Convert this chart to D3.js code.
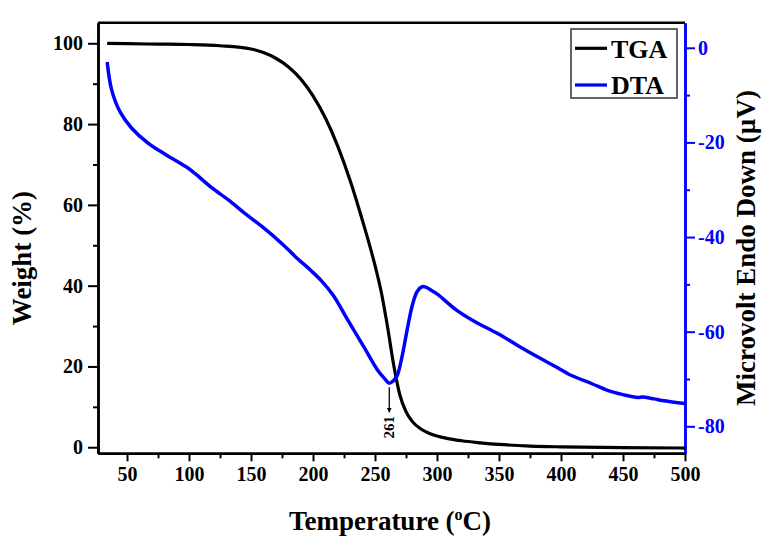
<!DOCTYPE html>
<html>
<head>
<meta charset="utf-8">
<script src="https://cdn.jsdelivr.net/npm/d3@7"></script>
<style>
  html, body { margin: 0; padding: 0; background: #fff; }
  svg { display: block; }
  text { font-family: "Liberation Serif", "Times New Roman", serif; font-weight: bold; }
</style>
</head>
<body>
<svg id="chart" width="777" height="541"></svg>
<script>
// ---------- data ----------
const tgaTemp = [34, 50, 75, 100, 125, 150, 160, 170, 180, 190, 200, 210, 220, 230, 240, 250, 255, 260, 265, 270, 275, 280, 287, 295, 308, 320, 335, 350, 375, 400, 450, 500];
const tgaWeight = [100, 99.9, 99.8, 99.7, 99.4, 98.6, 97.7, 96.3, 94.2, 91.2, 87, 81.5, 74.5, 66, 56, 45, 38.5, 30, 20.5, 13, 8.8, 6.4, 4.5, 3.3, 2.2, 1.6, 1.1, 0.7, 0.3, 0.1, -0.1, -0.2];

const dtaTemp = [34, 37.6, 44.3, 53.8, 67.2, 82, 98, 105, 118, 132, 145, 159, 175, 186, 198, 207, 216, 228, 241, 252, 258, 261.5, 265, 268, 272, 276, 280, 284, 288, 291, 295, 300, 316, 330, 349, 365, 381, 395, 408, 425, 437.5, 450, 461.8, 465.8, 475, 483.3, 500];
const dtaValue = [-3, -8.9, -13.5, -17, -20.2, -22.7, -25.2, -26.6, -29.5, -32.2, -35, -37.8, -41.4, -44.2, -47, -49.3, -52.2, -57.5, -63.2, -68.1, -70, -70.9, -70.3, -69.2, -65, -59.5, -54.5, -51.5, -50.5, -50.6, -51.2, -52, -55.5, -57.8, -60.4, -62.9, -65.3, -67.3, -69.2, -71, -72.4, -73.3, -73.9, -73.8, -74.2, -74.6, -75.2];

const xTicks = [50, 100, 150, 200, 250, 300, 350, 400, 450, 500];
const xMinorTicks = [75, 125, 175, 225, 275, 325, 375, 425, 475];
const yLeftTicks = [0, 20, 40, 60, 80, 100];
const yLeftMinor = [10, 30, 50, 70, 90];
const yRightTicks = [0, -20, -40, -60, -80];
const yRightMinor = [-10, -30, -50, -70];

const seriesNames = ["TGA", "DTA"];
const peakTemp = 261.5;
const peakLabel = "261";

// ---------- layout ----------
const L = 98, R = 685, T = 22.7, B = 453.3;
const black = "#000", blue = "#0000ff";

const svg = d3.select("#chart");
const x = d3.scaleLinear().domain([26.6, 500]).range([L, R]);
const yL = d3.scaleLinear().domain([-1.5, 105.1]).range([B, T]);
const yR = d3.scaleLinear().domain([-85.7, 5.3]).range([B, T]);

svg.append("defs").append("clipPath").attr("id", "clip")
  .append("rect").attr("x", L).attr("y", T).attr("width", R - L).attr("height", B - T);

// top frame
svg.append("line").attr("x1", L).attr("x2", R).attr("y1", T).attr("y2", T)
  .attr("stroke", black).attr("stroke-width", 2.5);

const fmt = d => String(d);
function styleAxis(g, color, fs) {
  g.select(".domain").attr("stroke", color).attr("stroke-width", 2.5);
  g.selectAll(".tick line").attr("stroke", color).attr("stroke-width", 2);
  g.selectAll(".tick text").attr("fill", color).attr("font-size", fs)
    .attr("font-family", "Liberation Serif, serif").attr("font-weight", "bold");
}

// bottom axis
const gx = svg.append("g").attr("transform", `translate(0,${B})`)
  .call(d3.axisBottom(x).tickValues(xTicks).tickFormat(fmt).tickSize(8).tickPadding(6).tickSizeOuter(0));
styleAxis(gx, black, 20);
const gxm = svg.append("g").attr("transform", `translate(0,${B})`)
  .call(d3.axisBottom(x).tickValues(xMinorTicks).tickSize(5).tickFormat("").tickSizeOuter(0));
styleAxis(gxm, black, 20);

// left axis
const gl = svg.append("g").attr("transform", `translate(${L},0)`)
  .call(d3.axisLeft(yL).tickValues(yLeftTicks).tickFormat(fmt).tickSize(10).tickPadding(5).tickSizeOuter(0));
styleAxis(gl, black, 20);
const glm = svg.append("g").attr("transform", `translate(${L},0)`)
  .call(d3.axisLeft(yL).tickValues(yLeftMinor).tickSize(5).tickFormat("").tickSizeOuter(0));
styleAxis(glm, black, 20);

// right axis
const gr = svg.append("g").attr("transform", `translate(${R},0)`)
  .call(d3.axisRight(yR).tickValues(yRightTicks).tickFormat(fmt).tickSize(10).tickPadding(3).tickSizeOuter(0));
styleAxis(gr, blue, 20);
const grm = svg.append("g").attr("transform", `translate(${R},0)`)
  .call(d3.axisRight(yR).tickValues(yRightMinor).tickSize(5).tickFormat("").tickSizeOuter(0));
styleAxis(grm, blue, 20);

// lines
const tgaData = tgaTemp.map((t, i) => [t, tgaWeight[i]]);
const dtaData = dtaTemp.map((t, i) => [t, dtaValue[i]]);

const plot = svg.append("g").attr("clip-path", "url(#clip)");
plot.append("path").datum(tgaData)
  .attr("d", d3.line().x(d => x(d[0])).y(d => yL(d[1])).curve(d3.curveMonotoneX))
  .attr("fill", "none").attr("stroke", black).attr("stroke-width", 3.2);
plot.append("path").datum(dtaData)
  .attr("d", d3.line().x(d => x(d[0])).y(d => yR(d[1])).curve(d3.curveCatmullRom.alpha(0.5)))
  .attr("fill", "none").attr("stroke", blue).attr("stroke-width", 3.5);

// annotation arrow at DTA endothermic minimum
const minIdx = dtaTemp.indexOf(peakTemp);
const ax = x(dtaTemp[minIdx]);
const ay = yR(dtaValue[minIdx]);
svg.append("defs").append("marker").attr("id", "arr")
  .attr("viewBox", "0 0 10 10").attr("refX", 9).attr("refY", 5)
  .attr("markerWidth", 5).attr("markerHeight", 6).attr("orient", "auto")
  .attr("markerUnits", "userSpaceOnUse")
  .append("path").attr("d", "M0,0 L10,5 L0,10 z").attr("fill", black);
svg.append("line").attr("x1", ax).attr("x2", ax).attr("y1", ay + 4).attr("y2", ay + 29)
  .attr("stroke", black).attr("stroke-width", 1.3).attr("marker-end", "url(#arr)");
svg.append("text").attr("transform", `translate(${ax + 5},${ay + 44}) rotate(-90)`)
  .attr("text-anchor", "middle").attr("font-family", "Liberation Sans, sans-serif")
  .attr("font-weight", "normal").attr("font-size", 15).text(peakLabel);

// legend
const lg = svg.append("g");
lg.append("rect").attr("x", 571).attr("y", 29).attr("width", 106).attr("height", 69)
  .attr("fill", "#fff").attr("stroke", "#333").attr("stroke-width", 1.5);
const legColors = [black, blue];
seriesNames.forEach((n, i) => {
  const yy = 48.3 + i * 36.7;
  lg.append("line").attr("x1", 575).attr("x2", 607).attr("y1", yy).attr("y2", yy)
    .attr("stroke", legColors[i]).attr("stroke-width", 3.2);
  lg.append("text").attr("x", 611).attr("y", yy + 9.3).attr("font-size", 26).text(n);
});

// axis titles
svg.append("text").attr("transform", `translate(31,258) rotate(-90)`)
  .attr("text-anchor", "middle").attr("font-size", 27).text("Weight (%)");
svg.append("text").attr("transform", `translate(755,248) rotate(-90)`)
  .attr("text-anchor", "middle").attr("font-size", 27).text("Microvolt Endo Down (\u00b5V)");
const xt = svg.append("text").attr("x", 390).attr("y", 530)
  .attr("text-anchor", "middle").attr("font-size", 27);
xt.append("tspan").text("Temperature (");
xt.append("tspan").attr("font-size", 16).attr("dy", -10).text("o");
xt.append("tspan").attr("dy", 10).text("C)");
</script>
</body>
</html>
